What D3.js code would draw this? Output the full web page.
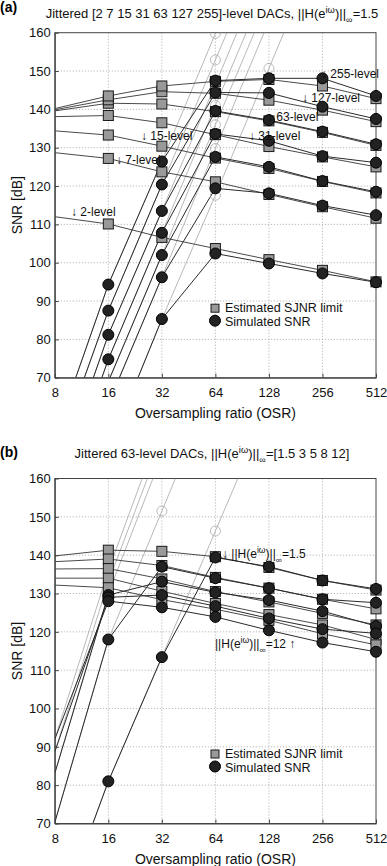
<!DOCTYPE html>
<html>
<head>
<meta charset="utf-8">
<script src="https://d3js.org/d3.v7.min.js"></script>
<style>
  body { margin: 0; background: #fff; font-family: Arial, "Liberation Sans", Helvetica, sans-serif; }
  .axis text { font-size: 13px; fill: #111; font-family: Arial, "Liberation Sans", sans-serif; }
  .axis path { stroke: #444; }
  .axis line { stroke: #444; }
</style>
</head>
<body>
<div id="viz"></div>
<script>

// oversampling ratios (first one only starts the lines, no marker)
const osr = [8, 16, 32, 64, 128, 256, 512];
const yTicks = [70, 80, 90, 100, 110, 120, 130, 140, 150, 160];

// panel (a): one row per DAC level
const levelsA = [2, 7, 15, 31, 63, 127, 255];
const sjnrA = [
  [112.0, 110.1, 106.6, 103.7, 100.8, 98.0, 95.0],
  [128.7, 127.2, 123.7, 121.1, 117.8, 114.6, 111.6],
  [134.4, 133.3, 130.4, 127.3, 124.6, 121.2, 118.2],
  [138.1, 138.4, 136.5, 133.4, 130.3, 127.6, 125.0],
  [139.6, 141.6, 141.4, 139.4, 137.0, 134.0, 130.6],
  [139.9, 142.5, 144.6, 144.2, 142.4, 139.8, 136.8],
  [140.2, 143.5, 146.1, 147.3, 147.8, 146.1, 142.8]
];
const snrA = [
  [15.0, 51.0, 85.3, 102.4, 99.8, 97.2, 94.9],
  [28.0, 63.2, 96.2, 119.4, 118.1, 114.9, 112.4],
  [30.0, 69.0, 102.0, 127.6, 125.0, 121.3, 118.5],
  [35.0, 74.8, 107.8, 133.6, 131.8, 127.8, 126.1],
  [41.2, 81.2, 113.5, 139.6, 137.2, 134.2, 130.9],
  [48.5, 87.5, 120.4, 144.4, 144.3, 140.7, 137.5],
  [54.4, 94.3, 126.4, 147.5, 148.1, 148.1, 143.5]
];
// jitter-free SNR (thin light lines, open circles)
const idealA = [
  [15.0, 51.0, 85.3, 117.6, 150.7, 184, 217],
  [28.0, 63.2, 96.2, 129.8, 163, 196, 229],
  [30.0, 69.0, 102.0, 136.0, 169, 202, 235],
  [35.0, 74.8, 107.8, 141.0, 174, 207, 240],
  [41.2, 81.2, 113.5, 146.5, 180, 213, 246],
  [48.5, 87.5, 120.4, 152.9, 186, 219, 252],
  [54.4, 94.3, 126.4, 159.8, 193, 226, 259]
];

// panel (b): one row per ||H||inf
const gainsB = [1.5, 3, 5, 8, 12];
const sjnrB = [
  [139.8, 141.3, 141.0, 139.6, 136.8, 133.4, 130.9],
  [138.3, 139.0, 137.3, 134.2, 131.4, 128.5, 126.0],
  [136.4, 136.5, 133.8, 130.5, 127.8, 124.8, 121.8],
  [134.0, 134.0, 130.6, 127.4, 124.5, 121.8, 118.0],
  [132.2, 131.5, 128.4, 125.9, 123.0, 119.5, 116.6]
];
const snrB = [
  [43.0, 81.0, 113.4, 139.4, 137.0, 133.4, 131.2],
  [70.3, 118.0, 137.0, 134.0, 131.4, 128.5, 127.6],
  [83.1, 129.6, 133.1, 130.3, 128.3, 125.4, 121.5],
  [88.7, 129.0, 129.6, 126.7, 123.5, 120.7, 119.6],
  [92.0, 128.0, 126.4, 123.9, 120.4, 117.2, 114.8]
];
const idealB = [
  [43.0, 81.0, 113.4, 146.3, 179, 212, 245],
  [70.3, 118.0, 151.5, 185, 218, 251, 284],
  [83.1, 130.0, 166, 200, 234, 268, 302],
  [88.7, 133.0, 170, 204, 238, 272, 306],
  [92.0, 136.0, 174, 208, 242, 276, 310]
];

const svg = d3.select("#viz").append("svg")
    .attr("width", 387)
    .attr("height", 866);

const x = d3.scaleLog().base(2).domain([8, 512]).range([54.8, 376]);

function rich(sel, parts) {
  parts.forEach(p => {
    const t = sel.append("tspan").text(p[0]);
    if (p[1]) t.attr("font-size", "0.72em").attr("baseline-shift", p[1]);
  });
}

function drawPanel(top, tag, sjnr, snr, ideal) {
  const bottom = top + 345;
  const y = d3.scaleLinear().domain([70, 160]).range([bottom, top]);
  const g = svg.append("g");

  g.append("clipPath").attr("id", "clip" + tag)
    .append("rect")
      .attr("x", x(8)).attr("y", top)
      .attr("width", x(512) - x(8)).attr("height", bottom - top);

  // dotted grid
  g.append("g").selectAll("line").data(osr.slice(1, -1)).join("line")
      .attr("x1", d => x(d)).attr("x2", d => x(d))
      .attr("y1", top).attr("y2", bottom)
      .attr("stroke", "#aaa").attr("stroke-dasharray", "1,2");
  g.append("g").selectAll("line").data(yTicks.slice(1, -1)).join("line")
      .attr("y1", d => y(d)).attr("y2", d => y(d))
      .attr("x1", x(8)).attr("x2", x(512))
      .attr("stroke", "#aaa").attr("stroke-dasharray", "1,2");

  // axes + box
  g.append("g").attr("class", "axis")
      .attr("transform", `translate(0,${bottom})`)
      .call(d3.axisBottom(x).tickValues(osr).tickFormat(d => d).tickSizeInner(-4).tickSizeOuter(0).tickPadding(10));
  g.append("g").attr("class", "axis")
      .attr("transform", `translate(${x(8)},0)`)
      .call(d3.axisLeft(y).tickValues(yTicks).tickSizeInner(-4).tickSizeOuter(0).tickPadding(4));
  g.append("rect")
      .attr("x", x(8)).attr("y", top)
      .attr("width", x(512) - x(8)).attr("height", bottom - top)
      .attr("fill", "none").attr("stroke", "#444");

  const line = d3.line().x((d, i) => x(osr[i])).y(d => y(d));
  const plot = g.append("g").attr("clip-path", `url(#clip${tag})`);

  plot.selectAll(".ideal").data(ideal).join("path")
      .attr("d", line).attr("fill", "none")
      .attr("stroke", "#999").attr("stroke-width", 0.7);
  plot.selectAll(".sjnr").data(sjnr).join("path")
      .attr("d", line).attr("fill", "none")
      .attr("stroke", "#4a4a4a").attr("stroke-width", 1);
  plot.selectAll(".snr").data(snr).join("path")
      .attr("d", line).attr("fill", "none")
      .attr("stroke", "#2a2a2a").attr("stroke-width", 1);

  // markers (no marker at OSR = 8)
  const pts = rows => rows.flatMap(r => r.map((v, i) => ({o: osr[i], v}))
      .filter(p => p.o > 8 && p.v >= 70 && p.v <= 160.5));

  plot.append("g").selectAll("circle").data(pts(ideal)).join("circle")
      .attr("cx", d => x(d.o)).attr("cy", d => y(d.v)).attr("r", 5)
      .attr("fill", "none").attr("stroke", "#aaa").attr("stroke-width", 0.8);
  g.append("g").selectAll("rect").data(pts(sjnr)).join("rect")
      .attr("x", d => x(d.o) - 5).attr("y", d => y(d.v) - 5)
      .attr("width", 10).attr("height", 10)
      .attr("fill", "#999").attr("stroke", "#1a1a1a");
  g.append("g").selectAll("circle").data(pts(snr)).join("circle")
      .attr("cx", d => x(d.o)).attr("cy", d => y(d.v)).attr("r", 5.5)
      .attr("fill", "#222").attr("stroke", "#000");

  // axis labels
  g.append("text")
      .attr("x", (x(8) + x(512)) / 2).attr("y", bottom + 40)
      .attr("text-anchor", "middle").attr("font-size", 14).attr("fill", "#111")
      .text("Oversampling ratio (OSR)");
  g.append("text")
      .attr("transform", `translate(21.5,${(top + bottom) / 2}) rotate(-90)`)
      .attr("text-anchor", "middle").attr("font-size", 14).attr("fill", "#111")
      .text("SNR [dB]");

  // legend
  const lx = 215, ly = top + 275.5;
  g.append("rect").attr("x", lx - 4).attr("y", ly - 4).attr("width", 8).attr("height", 8)
      .attr("fill", "#999").attr("stroke", "#1a1a1a");
  g.append("circle").attr("cx", lx).attr("cy", ly + 12.5).attr("r", 5.5)
      .attr("fill", "#222").attr("stroke", "#000");
  g.append("text").attr("x", lx + 10).attr("y", ly + 4).attr("font-size", 12.5).attr("fill", "#111")
      .text("Estimated SJNR limit");
  g.append("text").attr("x", lx + 10).attr("y", ly + 17.5).attr("font-size", 12.5).attr("fill", "#111")
      .text("Simulated SNR");

  return g;
}

// ---- panel (a)
const gA = drawPanel(32.7, "a", sjnrA, snrA, idealA);
svg.append("text").attr("x", 0).attr("y", 12).attr("font-size", 14).attr("font-weight", "bold").text("(a)");
rich(svg.append("text").attr("x", 212).attr("y", 18).attr("text-anchor", "middle").attr("font-size", 13).attr("fill", "#111"),
  [["Jittered [2 7 15 31 63 127 255]-level DACs, ||H(e"], ["i\u03c9", "super"], [")||"], ["\u221e", "sub"], ["=1.5"]]);

const labelsA = [
  {t: "\u2193 255-level", x: 321, y: 78},
  {t: "\u2193 127-level", x: 302, y: 102},
  {t: "\u2193 63-level", x: 267, y: 121},
  {t: "\u2193 31-level", x: 249, y: 140},
  {t: "\u2193 15-level", x: 141, y: 140},
  {t: "\u2193 7-level", x: 116, y: 164},
  {t: "\u2193 2-level", x: 71, y: 216}
];
svg.append("g").selectAll("text").data(labelsA).join("text")
    .attr("x", d => d.x).attr("y", d => d.y)
    .attr("font-size", 12).attr("fill", "#111")
    .text(d => d.t);

// ---- panel (b)
const gB = drawPanel(478.5, "b", sjnrB, snrB, idealB);
svg.append("text").attr("x", 0).attr("y", 457).attr("font-size", 14).attr("font-weight", "bold").text("(b)");
rich(svg.append("text").attr("x", 212).attr("y", 458).attr("text-anchor", "middle").attr("font-size", 13).attr("fill", "#111"),
  [["Jittered 63-level DACs, ||H(e"], ["i\u03c9", "super"], [")||"], ["\u221e", "sub"], ["=[1.5 3 5 8 12]"]]);

rich(svg.append("text").attr("x", 222).attr("y", 558).attr("font-size", 12).attr("fill", "#111"),
  [["\u2193 ||H(e"], ["i\u03c9", "super"], [")||"], ["\u221e", "sub"], ["=1.5"]]);
rich(svg.append("text").attr("x", 215).attr("y", 648).attr("font-size", 12).attr("fill", "#111"),
  [["||H(e"], ["i\u03c9", "super"], [")||"], ["\u221e", "sub"], ["=12 \u2191"]]);

</script>
</body>
</html>
